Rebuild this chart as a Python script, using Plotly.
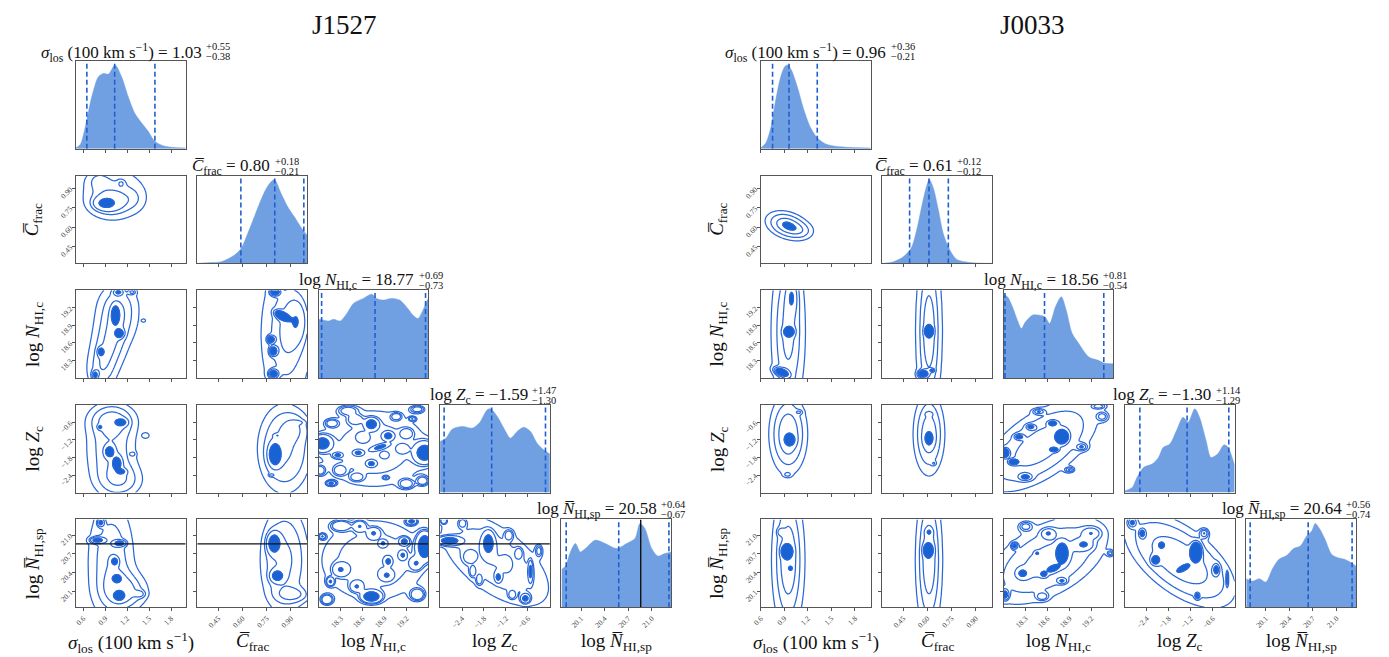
import numpy as np
import plotly.graph_objects as go

# ------------------------------------------------------------------
# Posterior summaries: median, +err, -err
# ------------------------------------------------------------------
J1527_MED = [1.03, 0.80, 18.77, -1.59, 20.58]
J1527_UP = [0.55, 0.18, 0.69, 1.47, 0.64]
J1527_LO = [0.38, 0.21, 0.73, 1.30, 0.67]
J1527_TRUTH_NSP = 20.86

J0033_MED = [0.96, 0.61, 18.56, -1.30, 20.64]
J0033_UP = [0.36, 0.12, 0.81, 1.14, 0.56]
J0033_LO = [0.21, 0.12, 0.54, 1.29, 0.74]

# Axis ranges for (sigma_los, C_frac, logN_HI,c, logZ_c, logN_HI,sp)
J1527_RANGES = [(0.5, 2.0), (0.32, 1.0), (18.0, 19.5), (-3.0, 0.0), (19.85, 21.25)]
J0033_RANGES = [(0.6, 2.0), (0.32, 1.0), (18.0, 19.5), (-3.0, 0.0), (19.85, 21.25)]

SIGMA_TICKS = [0.6, 0.9, 1.2, 1.5, 1.8]
CFRAC_TICKS = [0.45, 0.60, 0.75, 0.90]
NHC_TICKS = [18.3, 18.6, 18.9, 19.2]
ZC_TICKS = [-2.4, -1.8, -1.2, -0.6]
NSP_TICKS = [20.1, 20.4, 20.7, 21.0]

# ------------------------------------------------------------------
# 1D marginal posteriors (normalised to peak = 1)
# ------------------------------------------------------------------
J1527_SIGMA_X = [0.50, 0.56, 0.636, 0.717, 0.808, 0.876, 0.944, 1.035, 1.125, 1.216, 1.307, 1.397, 1.488, 1.579, 1.715, 2.0]
J1527_SIGMA_P = [0.01, 0.05, 0.29, 0.62, 0.86, 0.90, 0.89, 1.0, 0.86, 0.62, 0.42, 0.31, 0.21, 0.09, 0.03, 0.01]
J1527_CFRAC_X = [0.32, 0.40, 0.469, 0.551, 0.592, 0.633, 0.674, 0.715, 0.756, 0.797, 0.838, 0.879, 0.92, 0.981, 1.0]
J1527_CFRAC_P = [0.0, 0.01, 0.02, 0.10, 0.18, 0.36, 0.56, 0.76, 0.92, 1.0, 0.84, 0.68, 0.56, 0.38, 0.34]
J1527_NHC_X = [18.0, 18.07, 18.136, 18.204, 18.294, 18.385, 18.475, 18.611, 18.724, 18.79, 18.882, 18.994, 19.107, 19.198, 19.29, 19.357, 19.425, 19.49, 19.5]
J1527_NHC_P = [0.70, 0.69, 0.68, 0.70, 0.68, 0.77, 0.89, 0.95, 1.0, 0.95, 0.93, 0.95, 0.93, 0.85, 0.75, 0.71, 0.81, 0.94, 0.95]
J1527_ZC_X = [-3.0, -2.84, -2.66, -2.385, -2.114, -1.93, -1.71, -1.62, -1.44, -1.26, -1.08, -0.894, -0.714, -0.53, -0.35, -0.17, 0.0]
J1527_ZC_P = [0.61, 0.65, 0.76, 0.79, 0.77, 0.83, 0.99, 1.0, 0.91, 0.77, 0.65, 0.73, 0.78, 0.73, 0.59, 0.51, 0.46]
J1527_NSP_X = [19.85, 19.90, 19.964, 20.027, 20.09, 20.154, 20.28, 20.407, 20.555, 20.68, 20.787, 20.85, 20.913, 21.0, 21.08, 21.166, 21.25]
J1527_NSP_P = [0.45, 0.49, 0.66, 0.76, 0.66, 0.70, 0.80, 0.76, 0.70, 0.76, 0.82, 1.0, 0.94, 0.70, 0.61, 0.64, 0.66]

J0033_SIGMA_X = [0.6, 0.664, 0.727, 0.79, 0.854, 0.905, 0.94, 0.99, 1.066, 1.151, 1.236, 1.32, 1.447, 1.66, 2.0]
J0033_SIGMA_P = [0.01, 0.07, 0.25, 0.58, 0.86, 0.98, 1.0, 0.94, 0.74, 0.46, 0.25, 0.13, 0.05, 0.02, 0.01]
J0033_CFRAC_X = [0.32, 0.39, 0.451, 0.499, 0.534, 0.565, 0.592, 0.612, 0.637, 0.668, 0.698, 0.734, 0.78, 0.863, 1.0]
J0033_CFRAC_P = [0.0, 0.02, 0.08, 0.18, 0.40, 0.68, 0.90, 1.0, 0.90, 0.64, 0.36, 0.18, 0.05, 0.01, 0.0]
J0033_NHC_X = [18.0, 18.054, 18.122, 18.19, 18.245, 18.30, 18.395, 18.485, 18.566, 18.63, 18.71, 18.79, 18.857, 18.939, 19.03, 19.166, 19.30, 19.37, 19.5]
J0033_NHC_P = [0.99, 0.97, 0.85, 0.69, 0.59, 0.67, 0.75, 0.75, 0.73, 0.65, 0.85, 0.97, 0.81, 0.53, 0.41, 0.25, 0.21, 0.18, 0.17]
J0033_ZC_X = [-3.0, -2.80, -2.67, -2.49, -2.26, -2.08, -1.95, -1.77, -1.59, -1.41, -1.27, -1.09, -0.96, -0.78, -0.647, -0.466, -0.29, -0.18, 0.0]
J0033_ZC_P = [0.02, 0.06, 0.18, 0.30, 0.34, 0.42, 0.54, 0.58, 0.74, 0.90, 0.84, 1.0, 0.90, 0.62, 0.42, 0.46, 0.57, 0.54, 0.32]
J0033_NSP_X = [19.85, 19.93, 20.015, 20.10, 20.18, 20.265, 20.37, 20.455, 20.54, 20.62, 20.685, 20.73, 20.79, 20.855, 20.94, 21.02, 21.11, 21.19, 21.25]
J0033_NSP_P = [0.34, 0.31, 0.34, 0.30, 0.45, 0.57, 0.62, 0.70, 0.73, 0.85, 0.91, 1.0, 0.93, 0.81, 0.63, 0.59, 0.57, 0.53, 0.49]

# ------------------------------------------------------------------
# 2D posterior density components: (x, y, amplitude, sd_x, sd_y, rho)
# ------------------------------------------------------------------
J1527_CFRAC_SIGMA = [(0.90, 0.785, 1.0, 0.09, 0.03, 0), (0.98, 0.79, 0.5, 0.16, 0.06, 0),
                     (1.02, 0.86, 0.45, 0.28, 0.13, 0), (1.12, 0.94, 0.3, 0.035, 0.02, 0),
                     (0.80, 0.96, 0.25, 0.10, 0.05, 0), (1.30, 0.82, 0.15, 0.10, 0.06, 0)]
J1527_NHC_SIGMA = [(0.85, 18.1, 0.6, 0.15, 0.25, 0), (0.95, 18.5, 0.6, 0.17, 0.25, 0), (1.05, 18.9, 0.6, 0.2, 0.25, 0),
                   (1.08, 19.3, 0.6, 0.2, 0.25, 0), (0.76, 18.05, 0.8, 0.03, 0.05, 0),
                   (0.84, 18.45, 0.7, 0.03, 0.05, 0), (1.10, 18.76, 0.8, 0.04, 0.05, 0), (1.04, 19.08, 0.8, 0.035, 0.1, 0),
                   (1.08, 19.47, 0.7, 0.05, 0.04, 0), (1.27, 19.47, 0.6, 0.035, 0.03, 0), (1.43, 18.98, 0.25, 0.025, 0.025, 0)]
J1527_ZC_SIGMA = [(0.98, -1.5, 0.5, 0.25, 1.0, 0), (1.0, -0.5, 0.4, 0.22, 0.35, 0), (1.12, -2.6, 0.35, 0.22, 0.4, 0),
                  (0.96, -1.6, 1.0, 0.04, 0.12, 0), (1.06, -2.0, 1.0, 0.04, 0.15, 0), (1.12, -2.28, 0.7, 0.04, 0.06, 0),
                  (1.12, -0.6, 0.8, 0.05, 0.08, 0), (0.83, -0.76, 0.6, 0.02, 0.05, 0), (0.97, -2.47, 0.3, 0.015, 0.03, 0),
                  (1.46, -1.05, 0.25, 0.04, 0.08, 0), (1.28, -1.68, 0.25, 0.025, 0.05, 0)]
J1527_NSP_SIGMA = [(0.98, 20.6, 0.5, 0.23, 0.7, 0), (1.2, 20.1, 0.4, 0.22, 0.2, 0), (0.84, 21.2, 0.8, 0.03, 0.04, 0),
                   (0.79, 20.92, 0.9, 0.06, 0.03, 0), (1.1, 20.87, 0.9, 0.05, 0.03, 0), (1.03, 20.58, 0.8, 0.03, 0.04, 0),
                   (1.06, 20.31, 0.8, 0.04, 0.04, 0), (1.09, 20.03, 0.9, 0.045, 0.045, 0), (1.38, 20.06, 0.3, 0.05, 0.04, 0)]
J1527_NHC_CFRAC = [(0.87, 18.75, 0.6, 0.13, 1.0, 0), (0.95, 19.0, 0.25, 0.05, 0.3, 0), (0.80, 19.47, 0.8, 0.02, 0.04, 0),
                   (0.84, 19.07, 0.8, 0.025, 0.05, -0.5), (0.775, 18.66, 0.7, 0.015, 0.04, 0),
                   (0.79, 18.46, 0.7, 0.015, 0.05, 0), (0.79, 18.07, 0.7, 0.02, 0.05, 0)]
J1527_ZC_CFRAC = [(0.86, -1.5, 0.5, 0.12, 1.1, 0), (0.92, -0.8, 0.2, 0.06, 0.3, 0), (0.80, -1.7, 1.0, 0.025, 0.25, 0),
                  (0.78, -2.4, 0.4, 0.01, 0.03, 0), (0.94, -0.6, 0.2, 0.03, 0.05, 0), (0.815, -1.05, 0.3, 0.015, 0.04, 0)]
J1527_NSP_CFRAC = [(0.86, 20.6, 0.5, 0.12, 0.7, 0), (0.795, 20.87, 1.0, 0.025, 0.1, 0),
                   (0.815, 20.35, 0.8, 0.025, 0.06, 0), (0.92, 20.05, 0.25, 0.07, 0.08, 0)]
J1527_ZC_NHC = [(18.75, -1.5, 0.35, 0.9, 1.6, 0),
                (18.05, -1.32, 1.0, 0.07, 0.15, 0), (18.72, -0.66, 1.0, 0.05, 0.11, 0), (18.95, -1.06, 0.8, 0.04, 0.08, 0),
                (18.84, -1.44, 0.8, 0.06, 0.06, 0.7), (18.54, -1.64, 0.7, 0.035, 0.05, 0), (18.26, -1.72, 0.7, 0.035, 0.05, 0),
                (18.72, -2.01, 0.7, 0.035, 0.06, 0), (19.45, -1.64, 1.0, 0.08, 0.2, 0), (18.17, -2.68, 0.7, 0.035, 0.05, 0),
                (18.92, -2.49, 0.5, 0.02, 0.03, 0), (19.28, -0.48, 0.5, 0.025, 0.04, 0),
                (18.18, -0.63, 0.35, 0.05, 0.08, 0), (18.5, -0.5, 0.35, 0.06, 0.1, 0), (19.06, -0.40, 0.35, 0.04, 0.07, 0),
                (19.2, -0.98, 0.35, 0.05, 0.1, 0), (18.29, -2.24, 0.35, 0.05, 0.1, 0), (18.52, -2.47, 0.35, 0.05, 0.08, 0),
                (19.2, -2.7, 0.35, 0.06, 0.1, 0), (19.42, -2.6, 0.35, 0.05, 0.1, 0), (18.9, -1.72, 0.35, 0.03, 0.06, 0),
                (18.02, -2.24, 0.35, 0.04, 0.1, 0), (18.4, -0.2, 0.3, 0.08, 0.1, 0), (19.35, -0.15, 0.3, 0.06, 0.08, 0),
                (18.6, -1.1, 0.3, 0.05, 0.1, 0), (19.15, -1.5, 0.3, 0.05, 0.1, 0)]
J1527_NSP_NHC = [(18.75, 20.6, 0.3, 0.9, 0.8, 0),
                 (19.45, 20.82, 1.0, 0.06, 0.12, 0), (19.17, 20.9, 0.6, 0.035, 0.035, 0), (19.27, 21.22, 0.6, 0.04, 0.03, 0),
                 (18.95, 20.58, 0.6, 0.025, 0.035, 0), (18.72, 20.02, 1.0, 0.07, 0.05, 0), (18.05, 20.98, 0.4, 0.025, 0.025, 0),
                 (18.88, 20.87, 0.4, 0.03, 0.03, 0), (19.15, 20.68, 0.4, 0.03, 0.04, 0), (18.16, 20.26, 0.4, 0.03, 0.04, 0),
                 (18.56, 21.14, 0.35, 0.05, 0.05, 0), (18.75, 21.03, 0.35, 0.05, 0.05, 0), (18.3, 20.45, 0.35, 0.06, 0.06, 0),
                 (18.52, 20.18, 0.35, 0.05, 0.05, 0), (18.93, 20.36, 0.35, 0.05, 0.05, 0), (19.33, 20.55, 0.35, 0.05, 0.06, 0),
                 (18.11, 19.97, 0.35, 0.05, 0.05, 0), (18.3, 21.15, 0.3, 0.08, 0.05, 0), (19.35, 20.05, 0.3, 0.06, 0.06, 0)]
J1527_NSP_ZC = [(-1.5, 20.6, 0.3, 1.2, 0.6, -0.6),
                (-2.75, 20.91, 1.0, 0.18, 0.04, 0), (-1.68, 20.87, 1.0, 0.09, 0.1, 0), (-1.41, 20.33, 0.7, 0.05, 0.045, 0),
                (-0.53, 20.42, 0.8, 0.035, 0.09, 0), (-0.67, 19.99, 0.8, 0.07, 0.04, 0), (-2.9, 21.23, 0.5, 0.05, 0.03, 0),
                (-2.39, 21.19, 0.35, 0.06, 0.04, 0), (-2.11, 20.42, 0.35, 0.05, 0.05, 0), (-1.93, 20.29, 0.35, 0.05, 0.05, 0),
                (-1.12, 21.0, 0.35, 0.07, 0.05, 0), (-0.85, 20.71, 0.35, 0.06, 0.05, 0), (-1.03, 20.05, 0.35, 0.06, 0.04, 0),
                (-2.2, 20.65, 0.3, 0.1, 0.06, 0), (-0.3, 20.75, 0.3, 0.06, 0.06, 0), (-1.2, 20.55, 0.3, 0.08, 0.06, 0)]

J0033_CFRAC_SIGMA = [(0.94, 0.615, 1.0, 0.15, 0.06, -0.3), (1.12, 0.57, 0.25, 0.1, 0.04, 0)]
J0033_NHC_SIGMA = [(0.95, 18.8, 0.6, 0.15, 1.0, 0), (0.96, 18.79, 0.8, 0.04, 0.05, 0),
                   (0.86, 18.1, 0.9, 0.06, 0.05, -0.5), (1.0, 19.4, 0.3, 0.05, 0.2, 0)]
J0033_ZC_SIGMA = [(0.95, -1.0, 0.6, 0.14, 0.8, 0), (0.97, -1.2, 0.9, 0.04, 0.12, 0),
                  (1.09, -0.25, 0.25, 0.03, 0.05, 0), (0.94, -2.38, 0.25, 0.03, 0.05, 0)]
J0033_NSP_SIGMA = [(0.95, 20.6, 0.6, 0.14, 0.8, 0), (0.93, 20.74, 1.0, 0.04, 0.06, 0),
                   (0.98, 20.47, 0.4, 0.015, 0.02, 0), (0.85, 21.05, 0.25, 0.03, 0.04, 0)]
J0033_NHC_CFRAC = [(0.61, 18.8, 0.6, 0.055, 1.0, 0), (0.61, 18.8, 0.8, 0.015, 0.05, 0),
                   (0.57, 18.07, 0.8, 0.02, 0.04, 0), (0.63, 18.13, 0.4, 0.01, 0.02, 0)]
J0033_ZC_CFRAC = [(0.61, -1.0, 0.6, 0.055, 0.8, 0), (0.61, -1.15, 0.9, 0.017, 0.15, 0),
                  (0.61, -0.31, 0.25, 0.015, 0.05, 0), (0.64, -2.0, 0.25, 0.01, 0.05, 0)]
J0033_NSP_CFRAC = [(0.61, 20.6, 0.6, 0.055, 0.8, 0), (0.605, 20.76, 1.0, 0.017, 0.06, 0),
                   (0.61, 21.05, 0.25, 0.015, 0.04, 0)]
J0033_ZC_NHC = [(18.5, -1.4, 0.4, 0.6, 1.2, 0.6),
                (18.8, -1.09, 1.0, 0.045, 0.12, 0), (18.69, -1.53, 0.7, 0.03, 0.04, 0), (18.14, -1.95, 0.8, 0.035, 0.05, 0),
                (18.02, -1.64, 0.8, 0.03, 0.09, 0),
                (18.9, -2.22, 0.35, 0.04, 0.06, 0), (18.67, -0.63, 0.35, 0.04, 0.06, 0), (18.21, -1.09, 0.35, 0.04, 0.06, 0),
                (18.48, -0.23, 0.3, 0.05, 0.06, 0), (18.37, -0.75, 0.3, 0.04, 0.06, 0), (19.35, -0.4, 0.3, 0.05, 0.1, 0),
                (19.07, -1.44, 0.3, 0.05, 0.08, 0), (18.3, -2.47, 0.3, 0.06, 0.08, 0), (19.3, -0.05, 0.3, 0.06, 0.06, 0)]
J0033_NSP_NHC = [(18.6, 20.6, 0.4, 0.7, 0.6, 0.5),
                 (18.8, 20.71, 1.0, 0.045, 0.09, 0), (18.68, 20.47, 0.7, 0.05, 0.035, 0.5), (18.55, 20.38, 0.7, 0.025, 0.025, 0),
                 (18.15, 20.83, 0.6, 0.025, 0.03, 0), (18.02, 20.05, 0.6, 0.03, 0.05, 0),
                 (18.8, 20.27, 0.35, 0.04, 0.03, 0), (18.46, 20.71, 0.3, 0.02, 0.02, 0), (18.61, 21.03, 0.3, 0.06, 0.05, 0),
                 (18.3, 21.14, 0.3, 0.06, 0.05, 0), (19.2, 21.03, 0.3, 0.08, 0.06, 0), (19.46, 20.71, 0.25, 0.03, 0.03, 0),
                 (18.26, 20.39, 0.35, 0.05, 0.05, 0), (18.53, 20.02, 0.3, 0.05, 0.04, 0), (19.1, 20.85, 0.3, 0.08, 0.06, 0)]
J0033_NSP_ZC = [(-1.5, 20.6, 0.4, 1.2, 0.6, -0.6),
                (-1.05, 20.74, 1.0, 0.08, 0.08, 0), (-1.41, 20.47, 0.7, 0.08, 0.03, 0.7), (-2.0, 20.84, 0.6, 0.04, 0.025, 0),
                (-0.2, 20.31, 0.5, 0.015, 0.06, 0), (-1.02, 20.03, 0.4, 0.04, 0.03, 0), (-2.53, 21.03, 0.3, 0.06, 0.05, 0),
                (-2.17, 20.6, 0.3, 0.08, 0.05, 0), (-0.83, 21.03, 0.3, 0.08, 0.05, 0), (-2.8, 21.2, 0.3, 0.08, 0.05, 0),
                (-0.5, 20.45, 0.3, 0.06, 0.06, 0)]

# ------------------------------------------------------------------
# Styling / geometry
# ------------------------------------------------------------------
W, H = 1389, 657
FONT = "Liberation Serif"
LINE_BLUE = "#2a68d8"
FILL_BLUE = "#1862d4"
HIST_BLUE = "#70a0e2"
DASH_BLUE = "#1f5fd0"
SPINE = "#555555"
PW, PH = 110.5, 87.8
ROW_Y0 = [61 + 114.6 * i for i in range(5)]
LEFT_X0 = [67.3 + 122.2 * i for i in range(5)]
RIGHT_X0 = [756.7 + 122.15 * i for i in range(5)]
HIST_TOP = 1.048
LEVEL_SIGMAS = [0.5, 1.0, 1.5, 2.0]
XLABEL_Y = 642
TITLE_XEND = {
    "J1527": [196, 265, 410, 524, 654],
    "J0033": [885, 951.7, 1098.3, 1212.3, 1343.3],
}
NAME_CENTRE = {"J1527": 338, "J0033": 1030}


def fmt(v, nd):
    s = f"{v:.{nd}f}"
    return s.replace("-", "\u2212")


TICKS = [
    (SIGMA_TICKS, [fmt(t, 1) for t in SIGMA_TICKS]),
    (CFRAC_TICKS, [fmt(t, 2) for t in CFRAC_TICKS]),
    (NHC_TICKS, [fmt(t, 1) for t in NHC_TICKS]),
    (ZC_TICKS, [fmt(t, 1) for t in ZC_TICKS]),
    (NSP_TICKS, [fmt(t, 1) for t in NSP_TICKS]),
]

LABELS = [
    "<i>σ</i><sub>los</sub> (100 km s<sup>\u22121</sup>)",
    "<i>C\u0305</i><sub>frac</sub>",
    "log <i>N</i><sub>HI,c</sub>",
    "log <i>Z</i><sub>c</sub>",
    "log <i>N\u0305</i><sub>HI,sp</sub>",
]


def density(blobs, xr, yr, n=150):
    xs = np.linspace(xr[0], xr[1], n)
    ys = np.linspace(yr[0], yr[1], n)
    X, Y = np.meshgrid(xs, ys)
    Z = np.zeros_like(X)
    for x0, y0, w, sx, sy, rho in blobs:
        dx = (X - x0) / sx
        dy = (Y - y0) / sy
        q = (dx * dx + dy * dy - 2 * rho * dx * dy) / (1 - rho * rho)
        Z += w * np.exp(-0.5 * q)
    return xs, ys, Z


def sigma_levels(Z):
    """Map density to the Gaussian-sigma equivalent of enclosed mass."""
    flat = Z.ravel()
    order = np.argsort(flat)[::-1]
    cm = np.cumsum(flat[order])
    cm /= cm[-1]
    m = np.empty_like(flat)
    m[order] = cm
    m = np.clip(m, 0, 1 - 1e-9)
    s = np.sqrt(-2 * np.log(1 - m))
    return np.minimum(s, 4.0).reshape(Z.shape)


fig = go.Figure()
layout = {}
annotations = []
axis_count = [0]


def new_axes(px0, py0):
    axis_count[0] += 1
    k = axis_count[0]
    sid = "" if k == 1 else str(k)
    xd = [px0 / W, (px0 + PW) / W]
    yd = [1 - (py0 + PH) / H, 1 - py0 / H]
    return sid, xd, yd


def axis_style(domain, rng, anchor, ticks, show_labels, show_ticks=True):
    d = dict(domain=domain, range=list(rng), anchor=anchor, showgrid=False, zeroline=False,
             showline=True, mirror=True, linecolor=SPINE, linewidth=1,
             tickfont=dict(family=FONT, size=7.5, color="#444444"), tickangle=-45, fixedrange=True)
    if show_ticks:
        d.update(ticks="outside", ticklen=3, tickwidth=1, tickcolor=SPINE,
                 tickvals=ticks[0], ticktext=ticks[1], showticklabels=show_labels)
    else:
        d.update(ticks="", showticklabels=False)
    return d


def add_corner(x0s, ranges, med, up, lo, hists, pairs, truth=None, name="", label_x=25):
    annotations.append(dict(text=name, x=NAME_CENTRE[name] / W, y=1 - 25 / H, xref="paper", yref="paper",
                            showarrow=False, font=dict(family=FONT, size=27, color="#111111"),
                            xanchor="center", yanchor="middle"))
    for r in range(5):
        for c in range(r + 1):
            sid, xd, yd = new_axes(x0s[c], ROW_Y0[r])
            xa, ya = "x" + sid, "y" + sid
            if r == c:
                layout["xaxis" + sid] = axis_style(xd, ranges[c], ya, TICKS[c], r == 4)
                layout["yaxis" + sid] = axis_style(yd, (0, HIST_TOP), xa, None, False, show_ticks=False)
                hx, hp = hists[c]
                fig.add_trace(go.Scatter(x=hx, y=hp, xaxis=xa, yaxis=ya, mode="lines",
                                         line=dict(color=HIST_BLUE, width=0.5, shape="spline", smoothing=0.8),
                                         fill="tozeroy", fillcolor=HIST_BLUE, hoverinfo="skip", showlegend=False))
                for q in (med[c] - lo[c], med[c], med[c] + up[c]):
                    fig.add_trace(go.Scatter(x=[q, q], y=[0, HIST_TOP], xaxis=xa, yaxis=ya, mode="lines",
                                             line=dict(color=DASH_BLUE, width=1.6, dash="5px,3px"),
                                             hoverinfo="skip", showlegend=False))
                if truth is not None and c == 4:
                    fig.add_trace(go.Scatter(x=[truth, truth], y=[0, HIST_TOP], xaxis=xa, yaxis=ya, mode="lines",
                                             line=dict(color="#111111", width=1.4),
                                             hoverinfo="skip", showlegend=False))
                # title with stacked errors
                xend = TITLE_XEND[name][c]
                ty = ROW_Y0[r] - 9
                main = LABELS[c] + " = " + fmt(med[c], 2)
                annotations.append(dict(text=main, x=xend / W, y=1 - ty / H, xref="paper", yref="paper",
                                        showarrow=False, xanchor="right", yanchor="middle",
                                        font=dict(family=FONT, size=17, color="#111111")))
                annotations.append(dict(text="+" + fmt(up[c], 2), x=(xend + 0.5) / W, y=1 - (ty - 5.5) / H,
                                        xref="paper", yref="paper", showarrow=False, xanchor="left",
                                        yanchor="middle", font=dict(family=FONT, size=10.5, color="#111111")))
                annotations.append(dict(text="\u2212" + fmt(lo[c], 2), x=(xend + 0.5) / W, y=1 - (ty + 4.5) / H,
                                        xref="paper", yref="paper", showarrow=False, xanchor="left",
                                        yanchor="middle", font=dict(family=FONT, size=10.5, color="#111111")))
            else:
                layout["xaxis" + sid] = axis_style(xd, ranges[c], ya, TICKS[c], r == 4)
                layout["yaxis" + sid] = axis_style(yd, ranges[r], xa, TICKS[r], c == 0)
                xs, ys, Z = density(pairs[(r, c)], ranges[c], ranges[r])
                S = sigma_levels(Z)
                # innermost (0.5 sigma) region filled solid
                fig.add_trace(go.Contour(x=xs, y=ys, z=S, xaxis=xa, yaxis=ya, showscale=False,
                                         contours=dict(type="constraint", operation=">", value=LEVEL_SIGMAS[0]),
                                         fillcolor=FILL_BLUE, line=dict(color=FILL_BLUE, width=1),
                                         hoverinfo="skip", showlegend=False))
                fig.add_trace(go.Contour(x=xs, y=ys, z=S, xaxis=xa, yaxis=ya, showscale=False,
                                         contours=dict(start=LEVEL_SIGMAS[0], end=LEVEL_SIGMAS[-1],
                                                       size=0.5, coloring="lines"),
                                         colorscale=[[0, LINE_BLUE], [1, LINE_BLUE]],
                                         line=dict(width=1.25, smoothing=1.0),
                                         hoverinfo="skip", showlegend=False))
                if truth is not None and r == 4:
                    fig.add_trace(go.Scatter(x=list(ranges[c]), y=[truth, truth], xaxis=xa, yaxis=ya,
                                             mode="lines", line=dict(color="#111111", width=1.4),
                                             hoverinfo="skip", showlegend=False))
    # axis labels
    for c in range(5):
        annotations.append(dict(text=LABELS[c], x=(x0s[c] + PW / 2) / W, y=1 - XLABEL_Y / H,
                                xref="paper", yref="paper", showarrow=False, xanchor="center",
                                yanchor="middle", font=dict(family=FONT, size=19, color="#111111")))
    for r in range(1, 5):
        annotations.append(dict(text=LABELS[r], x=label_x / W, y=1 - (ROW_Y0[r] + PH / 2) / H,
                                xref="paper", yref="paper", showarrow=False, xanchor="center",
                                yanchor="middle", textangle=-90,
                                font=dict(family=FONT, size=19, color="#111111")))


add_corner(LEFT_X0, J1527_RANGES, J1527_MED, J1527_UP, J1527_LO,
           [(J1527_SIGMA_X, J1527_SIGMA_P), (J1527_CFRAC_X, J1527_CFRAC_P), (J1527_NHC_X, J1527_NHC_P),
            (J1527_ZC_X, J1527_ZC_P), (J1527_NSP_X, J1527_NSP_P)],
           {(1, 0): J1527_CFRAC_SIGMA, (2, 0): J1527_NHC_SIGMA, (3, 0): J1527_ZC_SIGMA, (4, 0): J1527_NSP_SIGMA,
            (2, 1): J1527_NHC_CFRAC, (3, 1): J1527_ZC_CFRAC, (4, 1): J1527_NSP_CFRAC,
            (3, 2): J1527_ZC_NHC, (4, 2): J1527_NSP_NHC, (4, 3): J1527_NSP_ZC},
           truth=J1527_TRUTH_NSP, name="J1527", label_x=25)

add_corner(RIGHT_X0, J0033_RANGES, J0033_MED, J0033_UP, J0033_LO,
           [(J0033_SIGMA_X, J0033_SIGMA_P), (J0033_CFRAC_X, J0033_CFRAC_P), (J0033_NHC_X, J0033_NHC_P),
            (J0033_ZC_X, J0033_ZC_P), (J0033_NSP_X, J0033_NSP_P)],
           {(1, 0): J0033_CFRAC_SIGMA, (2, 0): J0033_NHC_SIGMA, (3, 0): J0033_ZC_SIGMA, (4, 0): J0033_NSP_SIGMA,
            (2, 1): J0033_NHC_CFRAC, (3, 1): J0033_ZC_CFRAC, (4, 1): J0033_NSP_CFRAC,
            (3, 2): J0033_ZC_NHC, (4, 2): J0033_NSP_NHC, (4, 3): J0033_NSP_ZC},
           truth=None, name="J0033", label_x=714)

fig.update_layout(width=W, height=H, margin=dict(l=0, r=0, t=0, b=0),
                  paper_bgcolor="white", plot_bgcolor="white", showlegend=False,
                  annotations=annotations, **layout)
fig.write_html("out.html", config={"displayModeBar": False})
